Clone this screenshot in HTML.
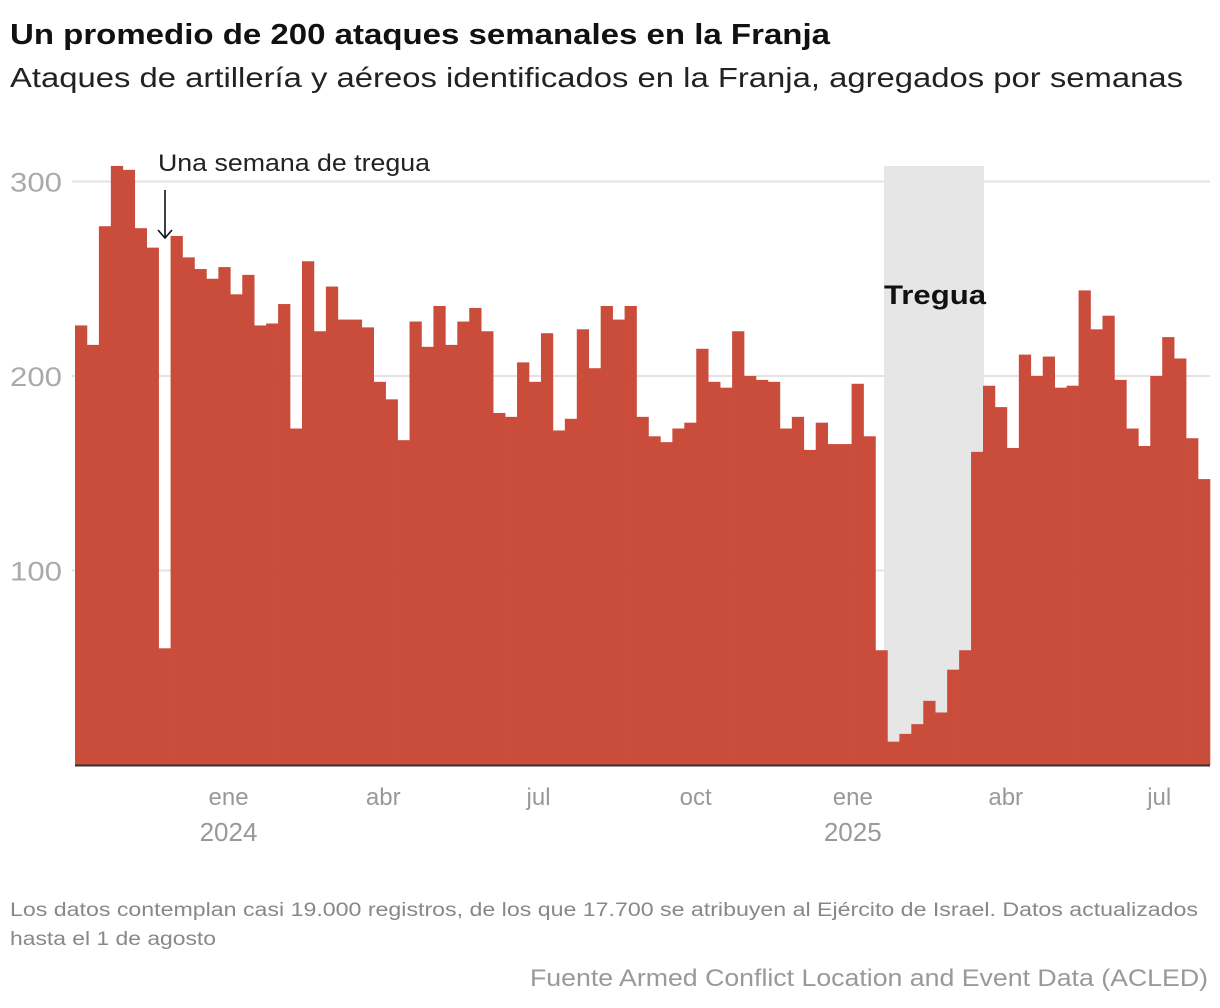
<!DOCTYPE html>
<html><head><meta charset="utf-8"><style>
html,body{margin:0;padding:0;background:#fff;}
svg{display:block;font-family:"Liberation Sans",sans-serif;}
</style></head><body>
<svg id="chart" width="1220" height="1008" viewBox="0 0 1220 1008">
<text x="10" y="44" font-size="29" font-weight="bold" fill="#111" textLength="820" lengthAdjust="spacingAndGlyphs">Un promedio de 200 ataques semanales en la Franja</text>
<text x="10" y="87" font-size="28" fill="#222" textLength="1173" lengthAdjust="spacingAndGlyphs">Ataques de artillería y aéreos identificados en la Franja, agregados por semanas</text>
<g id="grid"></g>
<rect x="884" y="166" width="100" height="599" fill="#e6e6e6"/>
<g id="bars"></g>
<line x1="75" x2="1210" y1="765.5" y2="765.5" stroke="#333" stroke-width="2"/>
<g id="xticks"></g>
<text x="884" y="304" font-size="27" font-weight="bold" fill="#111" textLength="102" lengthAdjust="spacingAndGlyphs">Tregua</text>
<text x="158" y="171" font-size="24" fill="#222" textLength="272" lengthAdjust="spacingAndGlyphs">Una semana de tregua</text>
<line x1="165" y1="190" x2="165" y2="238" stroke="#111" stroke-width="1.6"/>
<polyline points="158,230 165,238 172,230" fill="none" stroke="#111" stroke-width="1.6"/>
<text x="10" y="916" font-size="19" fill="#888" textLength="1188" lengthAdjust="spacingAndGlyphs">Los datos contemplan casi 19.000 registros, de los que 17.700 se atribuyen al Ejército de Israel. Datos actualizados</text>
<text x="10" y="945" font-size="19" fill="#888" textLength="206" lengthAdjust="spacingAndGlyphs">hasta el 1 de agosto</text>
<text x="1208" y="986" font-size="24" fill="#999" text-anchor="end" textLength="678" lengthAdjust="spacingAndGlyphs">Fuente Armed Conflict Location and Event Data (ACLED)</text>
</svg>
<script>
const values = [226,216,277,308,306,276,266,60,272,261,255,250,256,242,252,226,227,237,173,259,223,246,229,229,225,197,188,167,228,215,236,216,228,235,223,181,179,207,197,222,172,178,224,204,236,229,236,179,169,166,173,176,214,197,194,223,200,198,197,173,179,162,176,165,165,196,169,59,12,16,21,33,27,49,59,161,195,184,163,211,200,210,194,195,244,224,231,198,173,164,200,220,209,168,147];
const yTicks = [100,200,300];
const xTickLabels = ["ene","abr","jul","oct","ene","abr","jul"];
const xTickYears = ["2024","","","","2025","",""];
const xTickPos = [12.85,25.8,38.8,51.95,65.1,77.9,90.75];
const NS="http://www.w3.org/2000/svg";
const x0=75,x1=1210,y0=765,yScale=1.945;
const step=(x1-x0)/values.length;
function xs(i){return x0+i*step;}
function ys(v){return y0-v*yScale;}
const grid=document.getElementById('grid');
yTicks.forEach(t=>{
  const l=document.createElementNS(NS,'line');
  
  
  l.setAttribute('x1',72);l.setAttribute('x2',1210);
  l.setAttribute('y1',ys(t));l.setAttribute('y2',ys(t));
  l.setAttribute('stroke','#e3e3e3');l.setAttribute('stroke-width','2');
  grid.appendChild(l);
  const tx=document.createElementNS(NS,'text');
  
  
  tx.setAttribute('x',10);tx.setAttribute('y',ys(t)+10);
  tx.setAttribute('font-size','27');tx.setAttribute('fill','#aaa');
  tx.setAttribute('textLength','52');tx.setAttribute('lengthAdjust','spacingAndGlyphs');
  tx.textContent=t;grid.appendChild(tx);
});
const bars=document.getElementById('bars');
values.forEach((v,i)=>{
  const r=document.createElementNS(NS,'rect');
  
  
  r.setAttribute('x',xs(i));r.setAttribute('width',step+0.3);
  r.setAttribute('y',ys(v));r.setAttribute('height',v*yScale);
  r.setAttribute('fill','#ca4c3b');
  bars.appendChild(r);
});
const xt=document.getElementById('xticks');
xTickLabels.forEach((lab,k)=>{
  const cx=xs(xTickPos[k]);
  const t=document.createElementNS(NS,'text');
  
  
  t.setAttribute('x',cx);t.setAttribute('y',805);
  t.setAttribute('font-size','24');t.setAttribute('fill','#999');t.setAttribute('text-anchor','middle');
  t.textContent=lab;xt.appendChild(t);
  if(xTickYears[k]){
    const y=document.createElementNS(NS,'text');
    
    
    y.setAttribute('x',cx);y.setAttribute('y',841);
    y.setAttribute('font-size','26');y.setAttribute('fill','#999');y.setAttribute('text-anchor','middle');
    y.textContent=xTickYears[k];xt.appendChild(y);
  }
});
</script>
</body></html>
